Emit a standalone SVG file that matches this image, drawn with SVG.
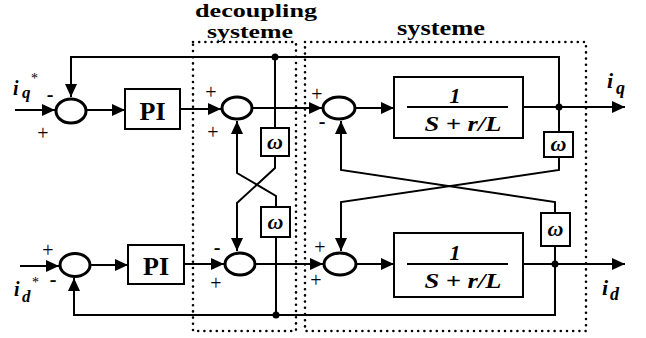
<svg xmlns="http://www.w3.org/2000/svg" width="646" height="338" viewBox="0 0 646 338" font-family="'Liberation Serif', 'Times New Roman', serif">
<style>
.ln{fill:none;stroke:#000;stroke-width:2;stroke-linejoin:miter}
.sum{fill:#fff;stroke:#000;stroke-width:3}
.box{fill:#fff;stroke:#000;stroke-width:2}
.dotted{fill:none;stroke:#000;stroke-width:2.6;stroke-linecap:round;stroke-dasharray:0 6.2}
.jn{fill:#000}
.ttl{font-size:19px;font-weight:bold}
.ttl2{font-size:20px;font-weight:bold}
.pi{font-size:26px;font-weight:bold;text-anchor:middle}
.w{font-size:22px;font-weight:bold;font-style:italic;text-anchor:middle}
.fr{font-size:22px;font-weight:bold;font-style:italic;text-anchor:middle}
.pl{font-size:20px;text-anchor:middle}
.mi{font-size:20px;font-weight:bold;text-anchor:middle}
.v{font-weight:bold;font-style:italic}
.st{font-size:14px}
</style>
<defs>
<marker id="ah" markerUnits="userSpaceOnUse" markerWidth="13" markerHeight="12" refX="13" refY="6" orient="auto" viewBox="0 0 13 12"><path d="M0,0 L13,6 L0,12 z" fill="#000"/></marker>
</defs>

<g id="regions">
<rect class="dotted" x="193" y="42" width="103" height="289"/>
<rect class="dotted" x="305" y="42" width="281" height="289"/>
<text class="ttl" x="195" y="17" textLength="122" lengthAdjust="spacingAndGlyphs">decoupling</text>
<text class="ttl" x="207" y="38" textLength="86" lengthAdjust="spacingAndGlyphs">systeme</text>
<text class="ttl2" x="397" y="35" textLength="88" lengthAdjust="spacingAndGlyphs">systeme</text>
</g>

<g id="connectors">
<path class="ln" marker-end="url(#ah)" d="M15,110 H55"/>
<path class="ln" marker-end="url(#ah)" d="M87,110 H125"/>
<path class="ln" marker-end="url(#ah)" d="M180,109 H221"/>
<path class="ln" marker-end="url(#ah)" d="M252,108 H322"/>
<path class="ln" marker-end="url(#ah)" d="M355,108 H394"/>
<path class="ln" marker-end="url(#ah)" d="M523,107 H625"/>
<path class="ln" marker-end="url(#ah)" d="M559,107 V57 H71 V97"/>
<path class="ln" d="M275,57 V128"/>
<path class="ln" marker-end="url(#ah)" d="M275,156 V168 L237,203 V251"/>
<path class="ln" d="M559,107 V132"/>
<path class="ln" marker-end="url(#ah)" d="M559,157 V170 L341,202 V251"/>

<path class="ln" marker-end="url(#ah)" d="M20,266 H59"/>
<path class="ln" marker-end="url(#ah)" d="M91,265 H128"/>
<path class="ln" marker-end="url(#ah)" d="M184,264 H224"/>
<path class="ln" marker-end="url(#ah)" d="M255,264 H323"/>
<path class="ln" marker-end="url(#ah)" d="M356,264 H394"/>
<path class="ln" marker-end="url(#ah)" d="M523,264 H625"/>
<path class="ln" marker-end="url(#ah)" d="M555,264 V315 H74 V278"/>
<path class="ln" d="M276,315 V237"/>
<path class="ln" marker-end="url(#ah)" d="M276,207 V196 L237,173 V121"/>
<path class="ln" d="M555,246 V264"/>
<path class="ln" marker-end="url(#ah)" d="M555,213 V202 L341,170 V121"/>

<circle class="jn" cx="275" cy="57" r="3.5"/>
<circle class="jn" cx="559" cy="107" r="3.5"/>
<circle class="jn" cx="276" cy="315" r="3.5"/>
<circle class="jn" cx="555" cy="264" r="3.5"/>
</g>

<g id="sum_q1"><ellipse class="sum" cx="71" cy="111" rx="15" ry="12"/></g>
<g id="pi_q"><rect class="box" x="125" y="89" width="55" height="40"/><text class="pi" x="152.5" y="120">PI</text></g>
<g id="sum_q2"><ellipse class="sum" cx="237" cy="108" rx="15" ry="11"/></g>
<g id="w_dec_q"><rect class="box" x="261" y="128" width="28" height="28"/><text class="w" x="275" y="149">ω</text></g>
<g id="sum_q3"><ellipse class="sum" cx="339" cy="108" rx="16" ry="11"/></g>
<g id="plant_q"><rect class="box" x="394" y="77" width="129" height="61"/>
<text class="fr" x="455" y="103">1</text>
<line x1="407" y1="107" x2="508" y2="107" stroke="#000" stroke-width="2"/>
<text class="fr" x="463" y="131" textLength="77" lengthAdjust="spacingAndGlyphs">S + r/L</text></g>
<g id="w_sys_q"><rect class="box" x="544" y="132" width="29" height="25"/><text class="w" x="558.5" y="151">ω</text></g>

<g id="sum_d1"><ellipse class="sum" cx="75" cy="265" rx="15" ry="11.5"/></g>
<g id="pi_d"><rect class="box" x="128" y="245" width="56" height="39"/><text class="pi" x="156" y="275">PI</text></g>
<g id="sum_d2"><ellipse class="sum" cx="240" cy="264" rx="15" ry="11"/></g>
<g id="w_dec_d"><rect class="box" x="261" y="207" width="29" height="30"/><text class="w" x="275.5" y="229">ω</text></g>
<g id="sum_d3"><ellipse class="sum" cx="340" cy="264" rx="16" ry="11"/></g>
<g id="plant_d"><rect class="box" x="394" y="233" width="129" height="64"/>
<text class="fr" x="455" y="260">1</text>
<line x1="407" y1="264" x2="508" y2="264" stroke="#000" stroke-width="2"/>
<text class="fr" x="463" y="288" textLength="77" lengthAdjust="spacingAndGlyphs">S + r/L</text></g>
<g id="w_sys_d"><rect class="box" x="541" y="213" width="29" height="33"/><text class="w" x="555.5" y="236">ω</text></g>

<g id="labels">
<text class="v" x="13" y="95" font-size="20">i</text>
<text class="v" x="22" y="98" font-size="17">q</text>
<text class="st" x="31" y="83">*</text>
<text class="v" x="14" y="296" font-size="20">i</text>
<text class="v" x="22" y="302" font-size="17">d</text>
<text class="st" x="32" y="287">*</text>
<text class="v" x="607" y="88" font-size="22">i</text>
<text class="v" x="616" y="94" font-size="18">q</text>
<text class="v" x="602" y="295" font-size="22">i</text>
<text class="v" x="610" y="300" font-size="18">d</text>

<text class="mi" x="50" y="101">-</text>
<text class="pl" x="43" y="140">+</text>
<text class="pl" x="211" y="99">+</text>
<text class="pl" x="213" y="139">+</text>
<text class="pl" x="317" y="101">+</text>
<text class="mi" x="322" y="128">-</text>

<text class="pl" x="48" y="257">+</text>
<text class="mi" x="53" y="286">-</text>
<text class="mi" x="217" y="254">-</text>
<text class="pl" x="216" y="290">+</text>
<text class="pl" x="320" y="254">+</text>
<text class="pl" x="316" y="287">+</text>
</g>
</svg>
